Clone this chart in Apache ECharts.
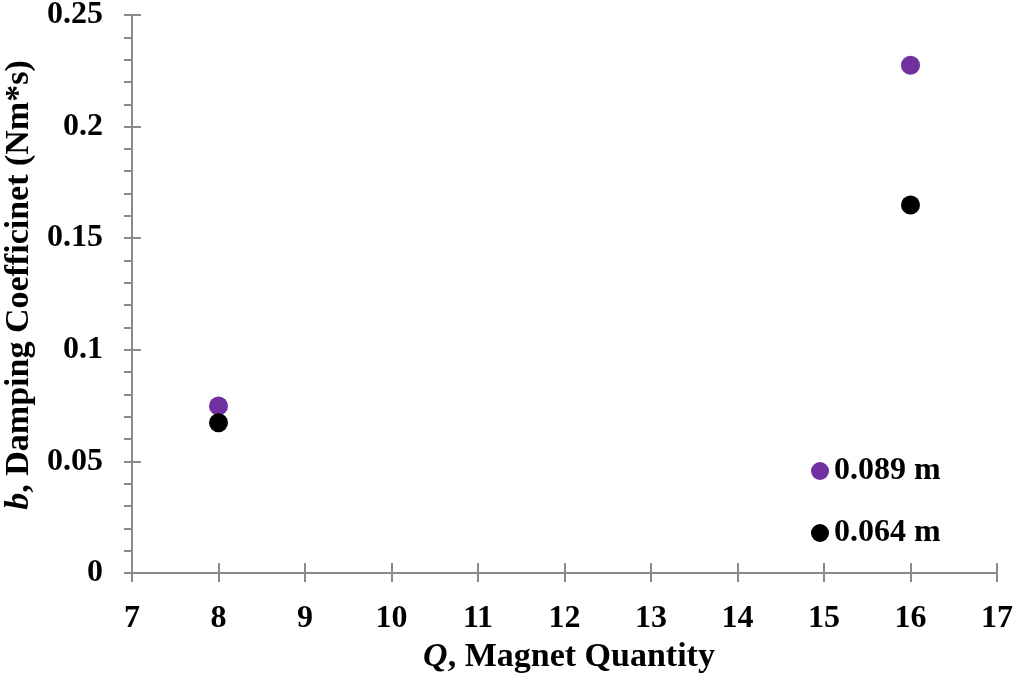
<!DOCTYPE html>
<html>
<head>
<meta charset="utf-8">
<script src="https://cdn.jsdelivr.net/npm/echarts@6/dist/echarts.min.js"></script>
<style>
  html, body { margin: 0; padding: 0; background: #fff; }
  #chart { width: 1016px; height: 677px; }
</style>
</head>
<body>
<div id="chart"></div>
<script>
// Magnet quantity on the x axis
const magnetQuantity = [8, 16];
// Damping coefficient b (Nm*s) for each magnet spacing
const damping089 = [0.0748, 0.2275];
const damping064 = [0.0673, 0.1649];
const seriesNames = ['0.089 m', '0.064 m'];
const seriesColors = ['#7030A0', '#000000'];

const FONT = '"Liberation Serif", "Times New Roman", serif';
const AXIS_GREY = '#8a8a8a';
const TICK_FONT = 32;
const TITLE_FONT = 34;

const pairs = (xs, ys) => xs.map((x, i) => [x, ys[i]]);

const chart = echarts.init(document.getElementById('chart'), null, { renderer: 'canvas' });

const xBase = {
  type: 'value', min: 7, max: 17, interval: 1, position: 'bottom',
  splitLine: { show: false }
};
const yBase = {
  type: 'value', min: 0, max: 0.25, interval: 0.05, position: 'left',
  splitLine: { show: false }
};

chart.setOption({
  animation: false,
  backgroundColor: '#ffffff',
  grid: { left: 132, right: 19, top: 15, bottom: 104, containLabel: false, outerBoundsMode: 'none' },
  legend: {
    orient: 'vertical',
    left: 811, top: 455, padding: 0,
    itemWidth: 18, itemHeight: 18, itemGap: 30,
    icon: 'circle',
    data: seriesNames,
    itemStyle: { opacity: 1 },
    textStyle: { fontFamily: FONT, fontWeight: 'bold', fontSize: TICK_FONT, color: '#000', lineHeight: 32 }
  },
  xAxis: [
    Object.assign({}, xBase, {
      axisLine: { onZero: false, lineStyle: { color: AXIS_GREY, width: 2 } },
      axisTick: { show: true, length: 9, lineStyle: { color: AXIS_GREY, width: 2 } },
      axisLabel: { fontFamily: FONT, fontWeight: 'bold', fontSize: TICK_FONT, color: '#000', margin: 30 },
      name: '{i|Q}, Magnet Quantity',
      nameLocation: 'middle', nameGap: 55,
      nameTextStyle: {
        fontFamily: FONT, fontWeight: 'bold', fontSize: TITLE_FONT, color: '#000',
        padding: [0, 0, 0, 9],
        rich: { i: { fontFamily: FONT, fontWeight: 'bold', fontStyle: 'italic', fontSize: TITLE_FONT, color: '#000' } }
      }
    }),
    // inward half of the crossing ticks
    Object.assign({}, xBase, {
      axisLine: { show: false, onZero: false },
      axisTick: { show: true, inside: true, length: 10, lineStyle: { color: AXIS_GREY, width: 2 } },
      axisLabel: { show: false }
    })
  ],
  yAxis: [
    Object.assign({}, yBase, {
      axisLine: { onZero: false, lineStyle: { color: AXIS_GREY, width: 2 } },
      axisTick: { show: true, length: 8, lineStyle: { color: AXIS_GREY, width: 2 } },
      minorTick: { show: true, splitNumber: 5, length: 8, lineStyle: { color: AXIS_GREY, width: 2 } },
      axisLabel: { fontFamily: FONT, fontWeight: 'bold', fontSize: TICK_FONT, color: '#000', margin: 29 },
      name: '{i|b}, Damping Coefficinet (Nm*s)',
      nameLocation: 'middle', nameGap: 90, nameRotate: 90,
      nameTextStyle: {
        fontFamily: FONT, fontWeight: 'bold', fontSize: TITLE_FONT, color: '#000',
        padding: [0, 0, 0, 18],
        rich: { i: { fontFamily: FONT, fontWeight: 'bold', fontStyle: 'italic', fontSize: TITLE_FONT, color: '#000' } }
      }
    }),
    Object.assign({}, yBase, {
      axisLine: { show: false, onZero: false },
      axisTick: { show: true, inside: true, length: 9, lineStyle: { color: AXIS_GREY, width: 2 } },
      axisLabel: { show: false }
    })
  ],
  series: [
    {
      name: seriesNames[0], type: 'scatter', symbol: 'circle', symbolSize: 19,
      itemStyle: { color: seriesColors[0], opacity: 1 },
      data: pairs(magnetQuantity, damping089)
    },
    {
      name: seriesNames[1], type: 'scatter', symbol: 'circle', symbolSize: 19,
      itemStyle: { color: seriesColors[1], opacity: 1 },
      data: pairs(magnetQuantity, damping064)
    }
  ]
});
</script>
</body>
</html>
